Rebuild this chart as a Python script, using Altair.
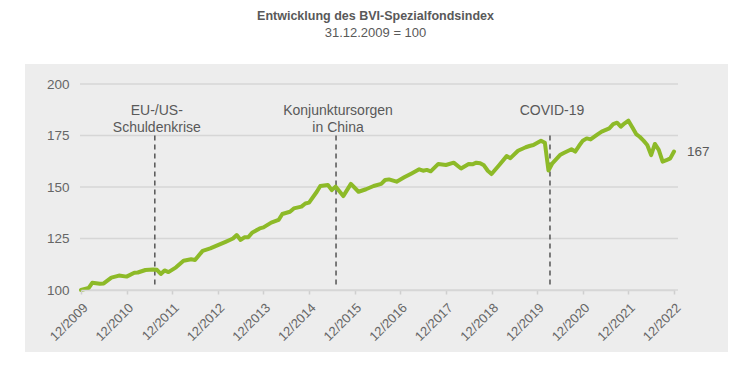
import altair as alt
import pandas as pd

# ---- data ----
dates = [
    "2009-12-01", "2010-01-01", "2010-02-01", "2010-03-01", "2010-05-01", "2010-06-01",
    "2010-08-01", "2010-10-01", "2010-12-01", "2011-02-01", "2011-03-01", "2011-05-01",
    "2011-07-01", "2011-08-01", "2011-09-01", "2011-10-01", "2011-11-01", "2012-01-01",
    "2012-03-01", "2012-05-01", "2012-06-01", "2012-08-01", "2012-10-01", "2012-12-01",
    "2013-02-01", "2013-04-01", "2013-05-01", "2013-06-01", "2013-07-01", "2013-08-01",
    "2013-09-01", "2013-11-01", "2013-12-01", "2014-02-01", "2014-04-01", "2014-05-01",
    "2014-07-01", "2014-08-01", "2014-10-01", "2014-11-01", "2014-12-01", "2015-02-01",
    "2015-03-01", "2015-05-01", "2015-06-01", "2015-07-01", "2015-09-01", "2015-11-01",
    "2016-01-01", "2016-03-01", "2016-05-01", "2016-07-01", "2016-08-01", "2016-09-01",
    "2016-11-01", "2017-01-01", "2017-03-01", "2017-05-01", "2017-06-01", "2017-07-01",
    "2017-08-01", "2017-10-01", "2017-12-01", "2018-02-01", "2018-04-01", "2018-06-01",
    "2018-07-01", "2018-08-01", "2018-09-01", "2018-10-01", "2018-11-01", "2018-12-01",
    "2019-02-01", "2019-04-01", "2019-05-01", "2019-07-01", "2019-09-01", "2019-10-01",
    "2019-11-01", "2020-01-01", "2020-02-01", "2020-03-01", "2020-04-01", "2020-06-01",
    "2020-07-01", "2020-09-01", "2020-10-01", "2020-11-01", "2020-12-01", "2021-01-01",
    "2021-02-01", "2021-04-01", "2021-05-01", "2021-07-01", "2021-08-01", "2021-09-01",
    "2021-10-01", "2021-11-01", "2021-12-01", "2022-01-01", "2022-02-01", "2022-03-01",
    "2022-04-01", "2022-05-01", "2022-06-01", "2022-07-01", "2022-08-01", "2022-09-01",
    "2022-10-01", "2022-11-01", "2022-12-01",
]
values = [
    100.0, 100.5, 101.0, 103.5, 103.0, 103.2,
    106.0, 107.0, 106.5, 108.4, 108.5, 109.7,
    110.0, 109.8, 107.8, 109.5, 108.7, 111.0,
    114.2, 114.9, 114.6, 119.0, 120.2, 121.8,
    123.4, 125.0, 126.7, 124.3, 125.6, 125.6,
    127.8, 129.9, 130.4, 132.7, 134.0, 136.9,
    138.0, 139.6, 140.5, 142.0, 142.4, 147.7,
    150.5, 151.0, 148.5, 150.2, 145.6, 151.5,
    147.7, 148.9, 150.5, 151.5, 153.4, 153.7,
    152.6, 154.7, 156.6, 158.6, 157.9, 158.3,
    157.6, 161.2, 160.7, 161.8, 159.0, 161.2,
    161.0, 161.8, 161.5, 160.5, 157.9, 156.3,
    160.7, 165.0, 164.0, 167.6, 169.3, 169.9,
    170.4, 172.5, 171.5, 158.0, 161.5, 165.5,
    166.5, 168.3, 167.2, 170.0, 172.5, 173.6,
    173.1, 175.7, 176.9, 178.5, 180.5, 181.2,
    179.3, 180.9, 182.2, 179.0, 175.7, 174.4,
    172.5, 170.4, 165.5, 170.9, 168.0, 162.3,
    163.0, 163.9, 167.2,
]

event_dates = ["2011-07-15", "2015-07-05", "2020-03-13"]
event_labels = ["EU-/US-\nSchuldenkrise", "Konjunktursorgen\nin China", "COVID-19"]

y_ticks = [100, 125, 150, 175, 200]
x_tick_years = list(range(2009, 2023))

title_text = "Entwicklung des BVI-Spezialfondsindex"
subtitle_text = "31.12.2009 = 100"

GREEN = "#8dba28"
TEXT = "#595959"
LABEL = "#666666"
FONT = "Liberation Sans"

df = pd.DataFrame({"date": dates, "value": values})
events = pd.DataFrame({"date": event_dates, "label": event_labels})
grid = pd.DataFrame({"v": y_ticks})
last = df.tail(1)

W, H = 593, 206

x_scale = alt.Scale(
    type="utc",
    domain=[alt.DateTime(year=2009, month=12, date=1, utc=True),
            alt.DateTime(year=2022, month=12, date=1, utc=True)],
)
y_scale = alt.Scale(domain=[100, 200], nice=False, zero=False)

x_axis = alt.Axis(
    values=[alt.DateTime(year=yr, month=12, date=1, utc=True) for yr in x_tick_years],
    labelExpr="utcFormat(datum.value, '%m/%Y')",
    labelAngle=-45,
    labelFontSize=13,
    labelColor=LABEL,
    labelPadding=7,
    tickSize=4,
    tickColor="#cfcfcf",
    tickWidth=1.5,
    domainColor="#d6d6d6",
    domainWidth=1.5,
    grid=False,
    title=None,
    zindex=1,
)
y_axis = alt.Axis(
    values=y_ticks,
    labelFontSize=13.5,
    labelColor=LABEL,
    labelPadding=12,
    domain=False,
    ticks=False,
    grid=False,
    title=None,
    zindex=1,
)

bg = alt.Chart(alt.Data(values=[{}])).mark_rect(color="#ededed").encode(
    x=alt.value(-56), x2=alt.value(647), y=alt.value(-20), y2=alt.value(268)
)

grid_rules = alt.Chart(grid).mark_rule(color="#d6d6d6", strokeWidth=1.5).encode(
    y=alt.Y("v:Q", scale=y_scale, axis=y_axis),
    x=alt.value(-1),
    x2=alt.value(597),
)

event_rules = alt.Chart(events).mark_rule(
    color="#555555", strokeDash=[5, 4], strokeWidth=1.5
).encode(
    x=alt.X("date:T", scale=x_scale, axis=x_axis),
    y=alt.datum(175),
    y2=alt.datum(102.5),
)

event_text = alt.Chart(events).mark_text(
    font=FONT, fontSize=14, color=TEXT, align="center", baseline="middle",
    lineBreak="\n", lineHeight=17, dx=2,
).encode(
    x=alt.X("date:T", scale=x_scale),
    y=alt.value(27),
    text="label:N",
)

line = alt.Chart(df).mark_line(
    color=GREEN, strokeWidth=4, strokeJoin="round", strokeCap="round"
).encode(
    x=alt.X("date:T", scale=x_scale, axis=x_axis),
    y=alt.Y("value:Q", scale=y_scale, axis=y_axis),
)

end_label = alt.Chart(last).mark_text(
    font=FONT, fontSize=13.5, color=TEXT, align="left", baseline="middle", dx=13
).encode(
    x=alt.X("date:T", scale=x_scale),
    y=alt.Y("value:Q", scale=y_scale),
    text=alt.Text("value:Q", format=".0f"),
)

chart = alt.layer(bg, grid_rules, event_rules, line, event_text, end_label).properties(
    width=W,
    height=H,
    autosize=alt.AutoSizeParams(type="none"),
    padding={"left": 73, "top": 76, "right": 68, "bottom": 70},
    title=alt.TitleParams(
        text=title_text,
        subtitle=subtitle_text,
        font=FONT,
        fontSize=12.5,
        fontWeight="bold",
        color=TEXT,
        subtitleFont=FONT,
        subtitleFontSize=13,
        subtitleColor=TEXT,
        subtitlePadding=5,
        anchor="middle",
        offset=24,
        dx=-2,
    ),
).configure(font=FONT, background="white").configure_view(stroke=None)

chart.save("out.html", embed_options={"renderer": "svg", "actions": False})
